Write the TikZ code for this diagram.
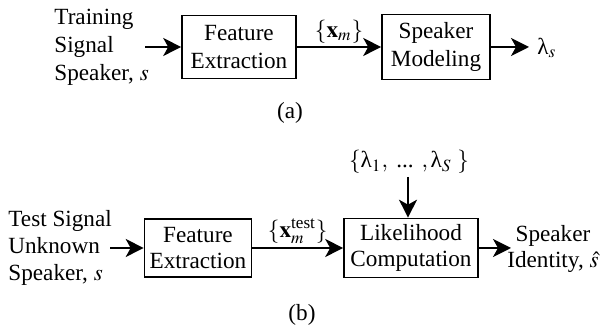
\documentclass[tikz,border=0pt]{standalone}
\usepackage{amsmath}
\usepackage{mathptmx}
\usepackage{fontspec}
\setmainfont{Liberation Serif}
\usetikzlibrary{arrows.meta}
\newcommand{\lam}{\text{λ}}

\begin{document}
\begin{tikzpicture}[x=0.5pt, y=-0.5pt, >={Stealth[length=9pt, width=9pt, inset=2.5pt]},
  font=\fontsize{11.6}{14}\selectfont,
  block/.style={draw, line width=0.8pt, inner sep=0pt, align=center},
  txt/.style={inner sep=0pt, align=left},
  flow/.style={->, line width=0.8pt}]
  \useasboundingbox (0,0) rectangle (600,325);

  % (a) training
  \node[txt, anchor=west] (train) at (54,47) {Training\\Signal\\Speaker, $s$};
  \node[block, minimum width=57pt, minimum height=31.5pt] (fea) at (239,47) {Feature\\Extraction};
  \node[block, minimum width=54pt, minimum height=32.5pt] (model) at (436,47) {Speaker\\Modeling};
  \node[txt, anchor=west] (lam) at (537,48) {$\lam_s$};
  \coordinate (ina) at (145,47);
  \coordinate (outa) at (529,47);
  \draw[flow] (ina) -- (fea);
  \draw[flow] (fea) -- node[above=1.5pt, inner sep=0pt] {$\{\mathbf{x}_m\}$} (model);
  \draw[flow] (model) -- (outa);
  \node (capa) at (290,113) {(a)};

  % (b) testing
  \node[txt, anchor=west, font=\fontsize{11.6}{13.7}\selectfont] (test) at (8,248) {Test Signal\\Unknown\\Speaker, $s$};
  \node[block, minimum width=53.5pt, minimum height=29pt, font=\fontsize{11.6}{12.6}\selectfont] (feb) at (198,248) {Feature\\Extraction};
  \node[block, minimum width=67pt, minimum height=29.5pt, font=\fontsize{11.6}{12.6}\selectfont] (like) at (411,248) {Likelihood\\Computation};
  \node[inner sep=0pt] (models) at (409,162) {$\{\lam_1,\text{ ... },\lam_S\ \}$};
  \node[inner sep=0pt, align=center, anchor=east, font=\fontsize{11.6}{12.6}\selectfont] (ident) at (599,249) {Speaker\\Identity, $\hat{s}$};
  \coordinate (inb) at (110,248);
  \coordinate (down) at (408,177);
  \coordinate (outb) at (511,248);
  \draw[flow] (inb) -- (feb);
  \draw[flow] (feb) -- node[above=2pt, inner sep=0pt] {$\{\mathbf{x}_m^{\text{test}}\}$} (like);
  \draw[flow] (down) -- (down |- like.north);
  \draw[flow] (like) -- (outb);
  \node (capb) at (302,315) {(b)};
\end{tikzpicture}
\end{document}
